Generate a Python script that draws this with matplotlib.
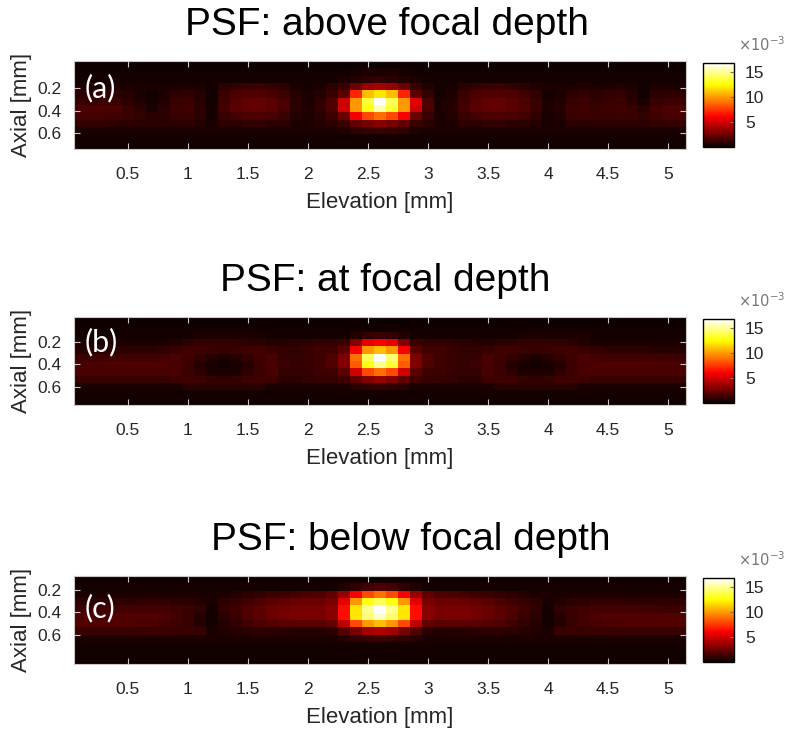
import numpy as np
import matplotlib.pyplot as plt
from matplotlib import font_manager

# --- Data (PSF amplitude, units of 1e-4) -------------------------------------
# 12 axial rows (top -> bottom) x 51 elevation columns
ELEV_RANGE = (0.05, 5.15)     # mm, outer edges of the pixel grid
AXIAL_RANGES = [(-0.04, 0.74), (-0.02, 0.76), (0.08, 0.86)]   # mm, per panel

psf_above = [
    [1] * 51,
    [2] * 23 + [3, 4, 4, 4, 3] + [2] * 23,
    [3] * 22 + [5, 7, 9, 10, 9, 7, 5] + [3] * 22,
    [5] * 11 + [2, 8, 10, 12, 12, 10, 8, 4, 3, 5, 8, 12, 25, 35, 40, 35, 25, 12, 6, 3, 4,
                8, 10, 12, 12, 10, 8, 6, 4, 4, 5, 6, 5, 5, 6, 5, 2, 5, 5, 5],
    [8, 8, 9, 8, 7, 4, 2, 4, 9, 10, 7, 2, 12, 16, 18, 18, 16, 13, 7, 4, 7, 12,
     20, 70, 110, 120, 110, 70, 20, 10, 3, 5, 12, 16, 18, 18, 17, 14, 10, 3, 5,
     9, 10, 8, 10, 10, 7, 2, 8, 9, 9],
    [12, 12, 13, 12, 9, 6, 3, 6, 12, 13, 8, 2, 14, 19, 22, 22, 20, 16, 8, 5, 9, 17,
     50, 100, 135, 169, 140, 100, 55, 17, 4, 6, 14, 19, 22, 22, 20, 17, 12, 4, 6,
     12, 13, 10, 12, 13, 8, 4, 12, 13, 13],
    [16, 16, 16, 16, 12, 8, 5, 8, 13, 14, 9, 3, 15, 20, 22, 22, 20, 16, 8, 6, 10, 17,
     50, 100, 130, 155, 135, 100, 50, 17, 5, 7, 15, 20, 22, 22, 21, 18, 12, 5, 7,
     13, 14, 12, 13, 14, 12, 8, 15, 16, 16],
    [15, 15, 15, 14, 12, 10, 8, 9, 12, 12, 8, 3, 12, 15, 17, 17, 16, 13, 7, 5, 8, 13,
     25, 60, 80, 90, 80, 60, 25, 12, 5, 6, 12, 15, 17, 17, 16, 14, 10, 4, 6,
     12, 13, 12, 12, 13, 12, 10, 14, 16, 16],
    [10, 10, 10, 9, 8, 8, 8, 8, 8, 8, 7, 4, 8, 9, 10, 10, 9, 8, 5, 5, 6, 8,
     12, 22, 28, 32, 28, 22, 12, 8, 5, 5, 8, 9, 10, 10, 9, 8, 7, 4, 5,
     8, 8, 8, 8, 8, 8, 8, 10, 10, 10],
    [4] * 22 + [6, 10, 12, 13, 12, 10, 6] + [4] * 22,
    [3] * 51,
    [2] * 51,
]

psf_at = [
    [1] * 51,
    [2] * 51,
    [3] * 10 + [5] * 6 + [3] * 7 + [6, 10, 12, 10, 6] + [3] * 9 + [5] * 6 + [3] * 8,
    [4] * 8 + [6, 8, 10, 11, 11, 10, 9, 8, 7, 7, 8, 9, 10, 10,
               12, 30, 55, 60, 55, 30, 12, 10, 10, 9, 8, 7,
               7, 8, 9, 10, 11, 11, 10, 8, 6] + [4] * 8,
    [7, 7, 7, 8, 8, 8, 9, 10, 12, 14, 14, 12, 11, 12, 14, 14, 12, 10, 10, 12, 14, 14,
     20, 60, 100, 110, 100, 60, 20, 14, 14, 12, 10, 10, 12, 14, 14, 12, 11, 12, 14, 14, 12,
     10, 9, 8, 8, 8, 7, 7, 7],
    [13, 13, 14, 14, 14, 14, 14, 15, 16, 14, 10, 7, 5, 7, 10, 14, 16, 11, 10, 11, 14, 18,
     30, 90, 140, 169, 145, 90, 30, 18, 14, 11, 10, 11, 16, 14, 10, 7, 5, 7, 10, 14, 16,
     15, 14, 14, 14, 14, 14, 13, 13],
    [16, 16, 17, 17, 17, 17, 17, 17, 16, 13, 7, 4, 2, 4, 7, 13, 16, 13, 11, 12, 14, 18,
     30, 85, 130, 150, 135, 85, 30, 18, 14, 12, 11, 13, 16, 13, 7, 4, 2, 4, 7, 13, 16,
     17, 17, 17, 17, 17, 17, 16, 16],
    [16, 16, 16, 16, 16, 16, 16, 16, 16, 13, 9, 5, 4, 5, 9, 13, 16, 11, 10, 11, 13, 14,
     20, 50, 80, 90, 80, 50, 20, 14, 13, 11, 10, 11, 16, 13, 9, 5, 4, 5, 9, 13, 16,
     16, 16, 16, 16, 16, 16, 16, 16],
    [11] * 8 + [13, 14, 13, 11, 10, 11, 13, 14, 13, 9, 9, 10, 11, 11,
                14, 22, 30, 35, 30, 22, 14, 11, 11, 10, 9, 9,
                13, 14, 13, 11, 10, 11, 13, 14, 13] + [11] * 8,
    [5] * 9 + [8] * 7 + [5] * 7 + [8, 10, 12, 10, 8] + [5] * 7 + [8] * 7 + [5] * 9,
    [3] * 51,
    [2] * 51,
]

psf_below = [
    [2] * 51,
    [3] * 22 + [6, 10, 15, 17, 15, 10, 6] + [3] * 22,
    [5] * 11 + [4, 5, 7, 8, 10, 12, 13, 15, 16, 17, 22, 35, 60, 80, 90, 80, 60, 35,
                22, 17, 16, 15, 13, 12, 10, 8, 7, 5, 4] + [5] * 11,
    [9, 9, 9, 9, 9, 10, 10, 10, 9, 8, 7, 4, 8, 11, 14, 17, 20, 22, 24, 25, 25, 28,
     55, 100, 130, 140, 130, 100, 55, 28, 25, 25, 24, 22, 20, 17, 14, 11, 8, 4,
     7, 8, 9, 10, 10, 10, 9, 9, 9, 9, 9],
    [13, 13, 14, 14, 15, 15, 15, 15, 14, 12, 10, 3, 10, 14, 18, 21, 24, 27, 28, 28, 28, 32,
     65, 120, 150, 169, 150, 120, 65, 32, 28, 28, 28, 27, 24, 21, 18, 14, 10, 3,
     10, 12, 14, 15, 15, 15, 15, 14, 14, 13, 13],
    [18, 18, 18, 18, 18, 18, 18, 17, 15, 12, 7, 2, 8, 12, 17, 21, 24, 27, 28, 28, 28, 32,
     65, 120, 145, 160, 145, 120, 65, 32, 28, 28, 28, 27, 24, 21, 17, 12, 8, 2,
     7, 12, 15, 17, 18, 18, 18, 18, 18, 18, 18],
    [18, 18, 18, 18, 18, 17, 17, 15, 14, 11, 7, 3, 7, 10, 14, 17, 18, 20, 20, 20, 20, 22,
     45, 80, 100, 110, 100, 80, 45, 22, 20, 20, 20, 20, 18, 17, 14, 10, 7, 3,
     7, 11, 14, 15, 17, 17, 18, 18, 18, 18, 18],
    [12] * 11 + [4, 6, 7, 8, 9, 9, 8, 7, 6, 6, 9, 18, 28, 38, 42, 38, 28, 18,
                 9, 6, 6, 7, 8, 9, 9, 8, 7, 6, 4] + [12] * 11,
    [5] * 22 + [7, 10, 12, 13, 12, 10, 7] + [5] * 22,
    [3] * 51,
    [2] * 51,
    [2] * 51,
]

panels = [
    ("PSF: above focal depth", "(a)", psf_above),
    ("PSF: at focal depth", "(b)", psf_at),
    ("PSF: below focal depth", "(c)", psf_below),
]
elev_ticks = [0.5, 1, 1.5, 2, 2.5, 3, 3.5, 4, 4.5, 5]
axial_ticks = [0.2, 0.4, 0.6]
cbar_ticks = [5e-3, 10e-3, 15e-3]

# --- Fonts -------------------------------------------------------------------
names = {f.name for f in font_manager.fontManager.ttflist}
main_font = "Liberation Sans" if "Liberation Sans" in names else "DejaVu Sans"
plt.rcParams["font.family"] = [main_font, "DejaVu Sans"]

# --- Plot --------------------------------------------------------------------
W, H = 788, 733
fig = plt.figure(figsize=(W / 100, H / 100), dpi=100)


def px_axes(left, top, right, bottom):
    return fig.add_axes([left / W, 1 - bottom / H, (right - left) / W, (bottom - top) / H])


tops = [61, 317, 576]
title_x = [387, 385, 411]
tag_y = [0.69, 0.72, 0.63]
grey = "#262626"
for (title, tag, grid), axial, top, tx, ty in zip(panels, AXIAL_RANGES, tops, title_x, tag_y):
    data = np.array(grid, dtype=float) * 1e-4
    ax = px_axes(74, top, 686, top + 88)
    im = ax.imshow(data, cmap="hot", vmin=0, vmax=data.max(), aspect="auto",
                   interpolation="nearest",
                   extent=[ELEV_RANGE[0], ELEV_RANGE[1], axial[1], axial[0]])
    ax.set_xticks(elev_ticks)
    ax.set_xticklabels([f"{t:g}" for t in elev_ticks])
    ax.set_yticks(axial_ticks)
    ax.set_yticklabels([f"{t:g}" for t in axial_ticks])
    ax.tick_params(direction="in", length=4, width=0.8, color="#c8c8c8",
                   labelsize=12.5, labelcolor=grey, top=True, right=True, pad=9)
    ax.tick_params(axis="x", pad=13)
    for s in ax.spines.values():
        s.set_color("#c8c8c8")
        s.set_linewidth(0.8)
    ax.set_xlabel("Elevation [mm]", fontsize=16, color=grey, labelpad=7)
    ax.set_ylabel("Axial [mm]", fontsize=16, color=grey, labelpad=4)
    ax.text(0.018, ty, tag, transform=ax.transAxes, color="white",
            fontsize=22, family=["Lato", "DejaVu Sans"], va="center", ha="left")
    fig.text(tx / W, 1 - (top - 36) / H, title, fontsize=28, ha="center", va="center")

    cax = px_axes(703, top + 2, 734, top + 86)
    cb = fig.colorbar(im, cax=cax, ticks=cbar_ticks)
    cb.ax.set_yticklabels(["5", "10", "15"])
    cb.ax.tick_params(direction="in", length=3, color="#777777", labelsize=12.5,
                      labelcolor=grey, pad=8)
    cb.outline.set_edgecolor("black")
    cb.outline.set_linewidth(1.0)
    fig.text(738 / W, 1 - (top - 16) / H, r"$\times10^{-3}$", fontsize=10.5,
             color="#777777", ha="left", va="center")

plt.savefig("out.png", dpi=100)
